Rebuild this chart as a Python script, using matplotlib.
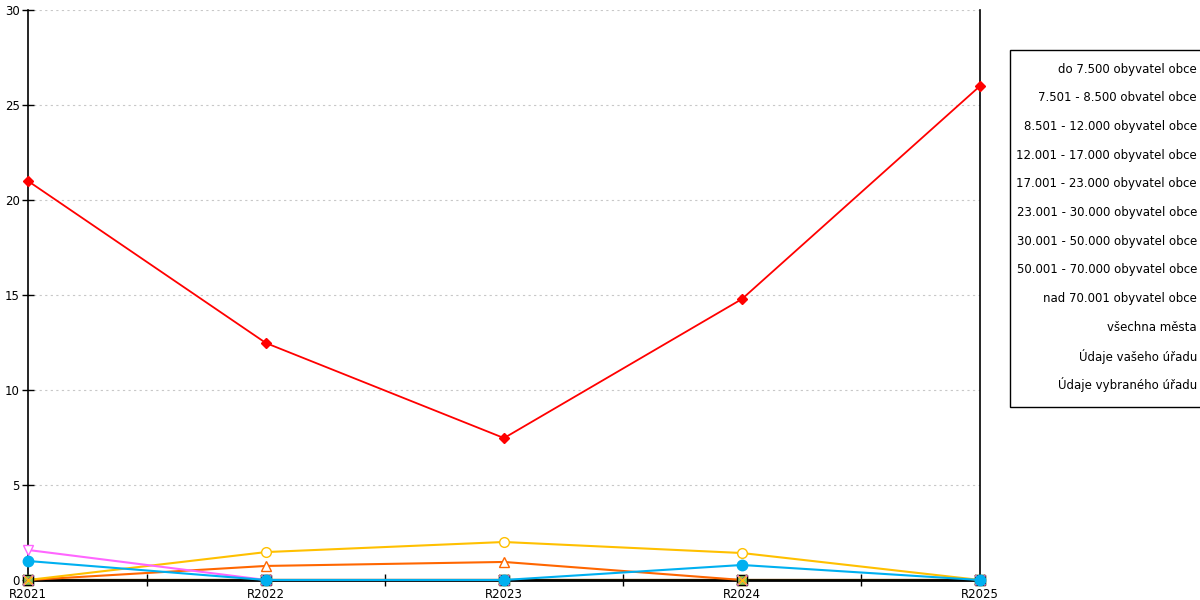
import numpy as np
import matplotlib.pyplot as plt
from matplotlib.patches import Rectangle

years = ["R2021", "R2022", "R2023", "R2024", "R2025"]

legend_names = [
    "do 7.500 obyvatel obce",
    "7.501 - 8.500 obvatel obce",
    "8.501 - 12.000 obyvatel obce",
    "12.001 - 17.000 obyvatel obce",
    "17.001 - 23.000 obyvatel obce",
    "23.001 - 30.000 obyvatel obce",
    "30.001 - 50.000 obyvatel obce",
    "50.001 - 70.000 obyvatel obce",
    "nad 70.001 obyvatel obce",
    "všechna města",
    "Údaje vašeho úřadu",
    "Údaje vybraného úřadu",
]

nan = np.nan
# series with non-zero values
vals_red = [21.0, 12.47, 7.47, 14.79, 26.0]
vals_yellow = [0, 1.47, 2.0, 1.42, 0]
vals_orange = [0, 0.74, 0.95, 0, nan]
vals_cyan = [1.0, 0, 0, 0.79, 0]
vals_pink = [1.58, 0, nan, nan, nan]
# series sitting on zero
vals_zero = [0, 0, 0, 0, 0]

x = np.arange(len(years))

fig = plt.figure(figsize=(12, 6), dpi=100)
ax = fig.add_axes([28 / 1200, 20 / 600, 952 / 1200, 570 / 600])

ax.plot(x, vals_orange, color="#FF6600", marker="^", ms=7, mfc="white", mew=1.0, lw=1.5,
        zorder=3, clip_on=False)
ax.plot(x, vals_yellow, color="#FFC000", marker="o", ms=7, mfc="white", mew=1.0, lw=1.5,
        zorder=3, clip_on=False)
ax.plot(x, vals_pink, color="#FF66FF", marker="v", ms=7, mfc="white", mew=1.0, lw=1.5,
        zorder=3, clip_on=False)

# zero-valued series: lines hide behind the axis, markers sit on top
zero_styles = [
    dict(color="#92D050", marker="s", ms=7),
    dict(color="black", marker="s", ms=7, mfc="none", mew=1.0),
    dict(color="#FF6600", marker="x", ms=7, mew=1.2),
    dict(color="#7F7F7F", marker="x", ms=7, mew=1.2),
    dict(color="#FF66FF", marker="x", ms=7, mew=1.0),
    dict(color="#FFC000", marker="x", ms=6, mew=1.0),
]
for st in zero_styles:
    ax.plot(x, vals_zero, color=st["color"], lw=1.5, zorder=2)
    ax.plot(x, vals_zero, ls="none", zorder=3.5, clip_on=False, **st)

ax.plot(x, vals_red, color="#FF0000", marker="D", ms=5.5, lw=1.3, zorder=4, clip_on=False)
ax.plot(x, vals_cyan, color="#00B0F0", marker="o", ms=7.5, lw=1.5, zorder=4, clip_on=False)

ax.set_xlim(0, 4)
ax.set_ylim(0, 30)
ax.set_yticks(np.arange(0, 31, 5))
ax.set_xticks(x)
ax.set_xticklabels(years)
ax.set_xticks(x[:-1] + 0.5, minor=True)
ax.tick_params(axis="x", which="major", length=0, pad=6, labelsize=8.5)
ax.tick_params(axis="x", which="minor", direction="inout", length=8, width=1)
ax.tick_params(axis="y", direction="inout", length=8, width=1, pad=2, labelsize=8.5)

ax.grid(axis="y", color="#c8c8c8", linestyle=(0, (2, 3)), linewidth=0.8)
ax.set_axisbelow(True)

ax.spines["top"].set_visible(False)
ax.spines["left"].set_linewidth(1.2)
ax.spines["right"].set_linewidth(1.2)
ax.spines["bottom"].set_linewidth(2)
for s in ax.spines.values():
    s.set_color("black")

# text-only legend box, right-aligned entries
fig.add_artist(Rectangle((1010 / 1200, 1 - 407 / 600), 200 / 1200, 357 / 600,
                         transform=fig.transFigure, facecolor="white",
                         edgecolor="black", lw=1))
for i, name in enumerate(legend_names):
    fig.text(1197 / 1200, 1 - (69 + i * 28.7) / 600, name, ha="right", va="center",
             fontsize=8.5)

fig.savefig("out.png", dpi=100)
